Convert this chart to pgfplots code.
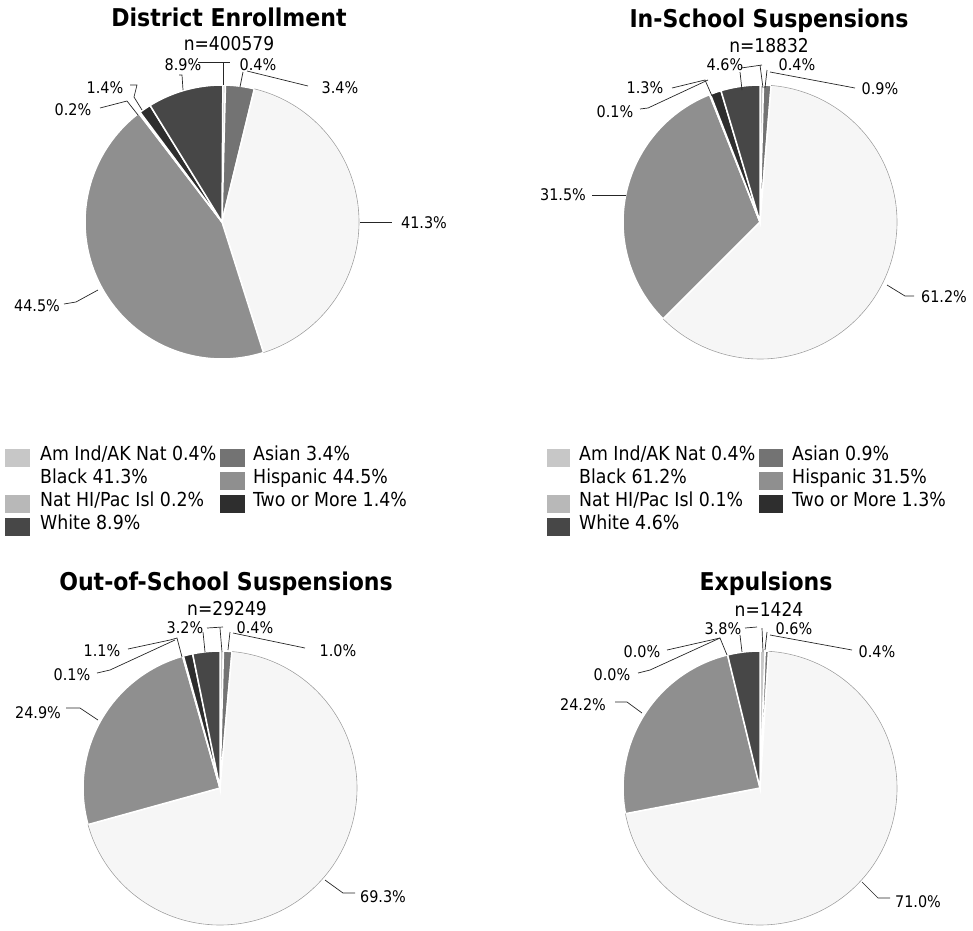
\documentclass[border=0pt]{standalone}
\usepackage{pgfplots}
\pgfplotsset{compat=1.18}
\usepackage{fontspec}
\setmainfont{DejaVu Sans Condensed}
\definecolor{cAm}{gray}{0.78}
\definecolor{cAs}{gray}{0.45}
\definecolor{cBl}{gray}{0.965}
\definecolor{cHi}{gray}{0.56}
\definecolor{cNH}{gray}{0.72}
\definecolor{cTw}{gray}{0.18}
\definecolor{cWh}{gray}{0.28}
% #1 start (cumulative %), #2 value (%), #3 colour
\newcommand{\pieslice}[3]{%
  \addplot[fill=#3, draw=white, line width=1.5pt, data cs=polar,
    domain=90-3.6*(#1+#2):90-3.6*(#1), samples=80] {137} -- (axis cs:0,0) -- cycle;}
\newcommand{\piearc}[2]{%
  \addplot[draw=gray!75, line width=0.6pt, data cs=polar,
    domain=90-3.6*(#1+#2):90-3.6*(#1), samples=120] {137};}
\pgfplotsset{pieaxis/.style={x=1pt, y=1pt, xmin=-140, xmax=140, ymin=-140, ymax=140,
  hide axis, clip=false, anchor=center}}
\newcommand{\myttl}{\fontsize{24.5}{27}\selectfont\bfseries}
\newcommand{\mynn}{\fontsize{19}{21}\selectfont}
\newcommand{\mylb}{\fontsize{16}{18}\selectfont}
\newcommand{\mylg}{\fontsize{19.3}{22}\selectfont}
\begin{document}
\begin{tikzpicture}
% ---------- pies ----------
% District Enrollment: Am Ind 0.4, Asian 3.4, Black 41.3, Hispanic 44.5, Nat HI 0.2, Two+ 1.4, White 8.9
\begin{axis}[pieaxis, at={(222pt,-222pt)}]
\pieslice{0}{0.4}{cAm}
\pieslice{0.4}{3.4}{cAs}
\pieslice{3.8}{41.3}{cBl}
\pieslice{45.1}{44.5}{cHi}
\pieslice{89.6}{0.2}{cNH}
\pieslice{89.8}{1.4}{cTw}
\pieslice{91.2}{8.9}{cWh}
\piearc{3.8}{41.3}
\end{axis}
% In-School Suspensions: 0.4, 0.9, 61.2, 31.5, 0.1, 1.3, 4.6
\begin{axis}[pieaxis, at={(760pt,-222pt)}]
\pieslice{0}{0.4}{cAm}
\pieslice{0.4}{0.9}{cAs}
\pieslice{1.3}{61.2}{cBl}
\pieslice{62.5}{31.5}{cHi}
\pieslice{94.0}{0.1}{cNH}
\pieslice{94.1}{1.3}{cTw}
\pieslice{95.4}{4.6}{cWh}
\piearc{1.3}{61.2}
\end{axis}
% Out-of-School Suspensions: 0.4, 1.0, 69.3, 24.9, 0.1, 1.1, 3.2
\begin{axis}[pieaxis, at={(220pt,-788pt)}]
\pieslice{0}{0.4}{cAm}
\pieslice{0.4}{1.0}{cAs}
\pieslice{1.4}{69.3}{cBl}
\pieslice{70.7}{24.9}{cHi}
\pieslice{95.6}{0.1}{cNH}
\pieslice{95.7}{1.1}{cTw}
\pieslice{96.8}{3.2}{cWh}
\piearc{1.4}{69.3}
\end{axis}
% Expulsions: 0.6, 0.4, 71.0, 24.2, 0.0, 0.0, 3.8
\begin{axis}[pieaxis, at={(760pt,-788pt)}]
\pieslice{0}{0.6}{cAm}
\pieslice{0.6}{0.4}{cAs}
\pieslice{1.0}{71.0}{cBl}
\pieslice{72.0}{24.2}{cHi}
\pieslice{96.2}{3.8}{cWh}
\piearc{1.0}{71.0}
\end{axis}
% ---------- annotations ----------
\begin{scope}[x=1pt, y=-1pt]
\path[use as bounding box] (0,0) rectangle (973,930);
% titles
\node[anchor=base, inner sep=0] at (229,26) {\myttl District Enrollment};
\node[anchor=base, inner sep=0] at (229,50) {\mynn n=400579};
\node[anchor=base, inner sep=0] at (769,27) {\myttl In-School Suspensions};
\node[anchor=base, inner sep=0] at (769,52) {\mynn n=18832};
\node[anchor=base, inner sep=0] at (226,590) {\myttl Out-of-School Suspensions};
\node[anchor=base, inner sep=0] at (227,615) {\mynn n=29249};
\node[anchor=base, inner sep=0] at (766,590) {\myttl Expulsions};
\node[anchor=base, inner sep=0] at (769,616) {\mynn n=1424};
% leader lines
\begin{scope}[line width=0.7pt, black!85]
% pie 1
\draw (360,222)--(392,222);
\draw (64,304)--(76,302)--(98,290);
\draw (100,108)--(127,101)--(138,115);
\draw (130,85)--(137,85)--(134,97)--(142,110);
\draw (179,75)--(182,75)--(183,90);
\draw (198,62)--(230,62); \draw (223,62)--(223,85);
\draw (243,72)--(240,87);
\draw (247,71)--(308,86);
% pie 2
\draw (887,285)--(905,296)--(914,296);
\draw (592,195)--(626,195);
\draw (640,109)--(648,108)--(708,80);
\draw (672,88)--(705,80)--(712,96);
\draw (741,68)--(762,65); \draw (760,65)--(763,88); \draw (740,72)--(742,90);
\draw (767,70)--(765,88);
\draw (855,88)--(770,72);
% pie 3
\draw (325,880)--(343,893)--(355,893);
\draw (66,708)--(80,708)--(98,720);
\draw (97,673)--(110,670)--(175,640);
\draw (128,649)--(170,640)--(177,638)--(182,657);
\draw (203,632)--(205,652); \draw (207,628)--(223,627); \draw (220,628)--(222,652);
\draw (230,632)--(228,650);
\draw (305,648)--(233,633);
% pie 4
\draw (862,882)--(878,898)--(890,898);
\draw (615,702)--(627,702)--(642,713);
\draw (638,673)--(650,670)--(720,638);
\draw (667,650)--(720,638)--(727,655);
\draw (740,635)--(742,652); \draw (745,628)--(757,627); \draw (762,628)--(763,652);
\draw (767,632)--(765,650);
\draw (852,650)--(770,635);
\end{scope}
% percentage labels
\begin{scope}[every node/.style={inner sep=0, anchor=center, font=\mylb}]
\node at (183,65) {8.9\%};  \node at (258,65) {0.4\%};  \node at (340,88) {3.4\%};
\node at (424,223) {41.3\%}; \node at (37,306) {44.5\%}; \node at (73,110) {0.2\%};
\node at (105,88) {1.4\%};
\node at (725,65) {4.6\%};  \node at (797,65) {0.4\%};  \node at (880,89) {0.9\%};
\node at (645,88) {1.3\%};  \node at (615,112) {0.1\%}; \node at (563,195) {31.5\%};
\node at (944,297) {61.2\%};
\node at (185,628) {3.2\%}; \node at (255,628) {0.4\%}; \node at (338,651) {1.0\%};
\node at (102,651) {1.1\%}; \node at (72,675) {0.1\%};  \node at (38,713) {24.9\%};
\node at (383,897) {69.3\%};
\node at (723,629) {3.8\%}; \node at (794,629) {0.6\%}; \node at (877,652) {0.4\%};
\node at (642,652) {0.0\%}; \node at (612,675) {0.0\%}; \node at (583,705) {24.2\%};
\node at (918,902) {71.0\%};
\end{scope}
% legends
\begin{scope}[every node/.style={inner sep=0, anchor=mid west, font=\mylg}]
% legend 1
\fill[cAm] (5,449) rectangle (30,467);   \node at (40,458) {Am Ind/AK Nat 0.4\%};
\fill[cAs] (220,449) rectangle (245,467); \node at (253,458) {Asian 3.4\%};
\node at (40,481) {Black 41.3\%};
\fill[cHi] (220,472) rectangle (245,490); \node at (253,481) {Hispanic 44.5\%};
\fill[cNH] (5,495) rectangle (30,513);   \node at (40,504) {Nat HI/Pac Isl 0.2\%};
\fill[cTw] (220,495) rectangle (245,513); \node at (253,504) {Two or More 1.4\%};
\fill[cWh] (5,518) rectangle (30,536);   \node at (40,527) {White 8.9\%};
% legend 2
\fill[cAm] (547,449) rectangle (570,467); \node at (579,458) {Am Ind/AK Nat 0.4\%};
\fill[cAs] (759,449) rectangle (783,467); \node at (792,458) {Asian 0.9\%};
\node at (579,481) {Black 61.2\%};
\fill[cHi] (759,472) rectangle (783,490); \node at (792,481) {Hispanic 31.5\%};
\fill[cNH] (547,495) rectangle (570,513); \node at (579,504) {Nat HI/Pac Isl 0.1\%};
\fill[cTw] (759,495) rectangle (783,513); \node at (792,504) {Two or More 1.3\%};
\fill[cWh] (547,518) rectangle (570,536); \node at (579,527) {White 4.6\%};
\end{scope}
\end{scope}
\end{tikzpicture}
\end{document}
